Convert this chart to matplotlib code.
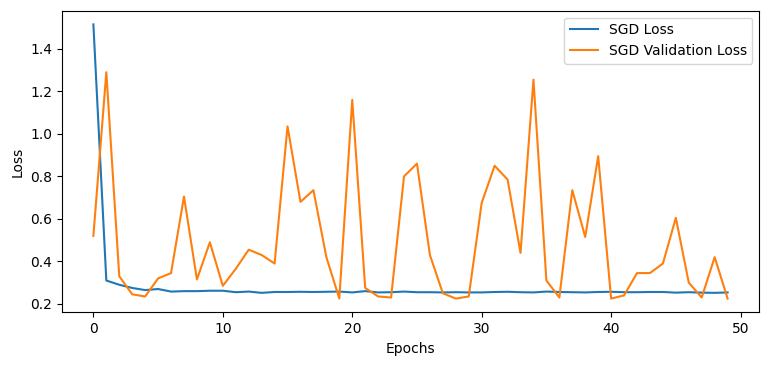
import matplotlib.pyplot as plt

epochs = list(range(50))

sgd_loss = [1.515, 0.31, 0.29, 0.275, 0.265, 0.27, 0.258, 0.26, 0.26, 0.262,
            0.262, 0.255, 0.258, 0.252, 0.256, 0.256, 0.257, 0.256, 0.257, 0.258,
            0.254, 0.26, 0.254, 0.255, 0.258, 0.255, 0.255, 0.254, 0.255, 0.254,
            0.254, 0.256, 0.257, 0.255, 0.254, 0.258, 0.256, 0.255, 0.254, 0.256,
            0.257, 0.255, 0.255, 0.256, 0.256, 0.253, 0.255, 0.253, 0.252, 0.254]

sgd_val_loss = [0.52, 1.29, 0.33, 0.245, 0.235, 0.32, 0.345, 0.705, 0.315, 0.49,
                0.285, 0.365, 0.455, 0.43, 0.39, 1.035, 0.68, 0.735, 0.42, 0.225,
                1.16, 0.275, 0.235, 0.23, 0.80, 0.86, 0.43, 0.25, 0.225, 0.235,
                0.675, 0.85, 0.785, 0.44, 1.255, 0.31, 0.23, 0.735, 0.515, 0.895,
                0.225, 0.24, 0.345, 0.345, 0.39, 0.605, 0.30, 0.23, 0.42, 0.225]

fig, ax = plt.subplots(figsize=(7.68, 3.65), dpi=100)
ax.plot(epochs, sgd_loss, label="SGD Loss")
ax.plot(epochs, sgd_val_loss, label="SGD Validation Loss")
ax.set_xlabel("Epochs")
ax.set_ylabel("Loss")
ax.legend()

fig.subplots_adjust(left=0.0803, right=0.9887, top=0.9707, bottom=0.1444)
fig.savefig("out.png")
